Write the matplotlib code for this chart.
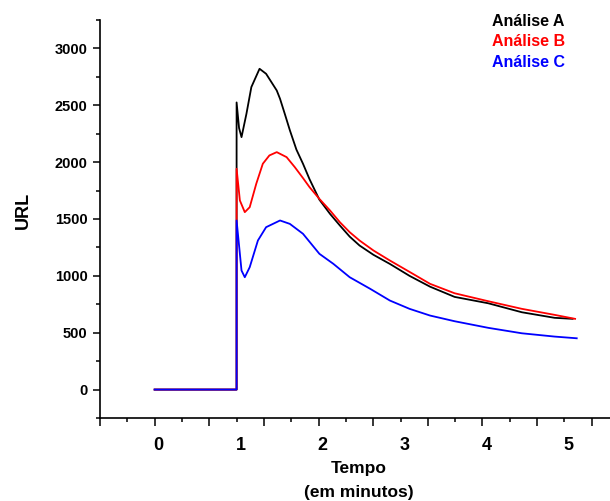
import matplotlib
matplotlib.use("Agg")
import matplotlib.pyplot as plt
from matplotlib.ticker import MultipleLocator

plt.rcParams['font.family'] = ['Liberation Sans', 'DejaVu Sans']
plt.rcParams['font.weight'] = 'bold'

# data (time in minutes, URL values)
t_a = [0, 1.0, 1.0, 1.03, 1.06, 1.12, 1.18, 1.28, 1.36, 1.49, 1.53, 1.59, 1.65,
       1.73, 1.81, 1.89, 2.01, 2.14, 2.26, 2.38, 2.50, 2.67, 2.87, 3.11, 3.36,
       3.66, 4.07, 4.48, 4.88, 5.10]
url_a = [0, 0, 2525, 2300, 2220, 2425, 2660, 2821, 2777, 2630, 2557, 2420, 2280,
         2110, 1986, 1850, 1670, 1545, 1443, 1345, 1267, 1185, 1105, 1000, 905,
         815, 759, 680, 631, 622]

t_b = [0, 1.0, 1.0, 1.04, 1.10, 1.16, 1.24, 1.32, 1.40, 1.49, 1.61, 1.71, 1.81,
       1.89, 2.01, 2.14, 2.26, 2.38, 2.50, 2.67, 2.87, 3.11, 3.36, 3.66, 4.07,
       4.48, 4.88, 5.13]
url_b = [0, 0, 1942, 1663, 1560, 1604, 1810, 1986, 2059, 2088, 2044, 1956, 1860,
         1780, 1677, 1575, 1472, 1384, 1311, 1223, 1135, 1035, 930, 847, 777,
         710, 657, 622]

t_c = [0, 1.0, 1.0, 1.06, 1.10, 1.16, 1.26, 1.36, 1.53, 1.65, 1.81, 2.01, 2.18,
       2.38, 2.63, 2.87, 3.11, 3.36, 3.66, 4.07, 4.48, 4.88, 5.15]
url_c = [0, 0, 1487, 1047, 988, 1076, 1311, 1428, 1487, 1457, 1370, 1194, 1106,
         988, 886, 783, 710, 651, 601, 543, 495, 466, 451]

names = ['Análise A', 'Análise B', 'Análise C']
colors = ['black', 'red', 'blue']
x_labels = ['0', '1', '2', '3', '4', '5']

fig = plt.figure(figsize=(6.10, 5.01), dpi=100)
ax = fig.add_axes([100 / 610, 83 / 501, 510 / 610, 398 / 501])

for t, y, c in zip([t_a, t_b, t_c], [url_a, url_b, url_c], colors):
    ax.plot(t, y, color=c, lw=1.3)

ax.set_xlim(-2 / 3, 5.556)
ax.set_ylim(-250, 3250)

# Origin style axes: only left and bottom
ax.spines['top'].set_visible(False)
ax.spines['right'].set_visible(False)
ax.spines['left'].set_linewidth(1.2)
ax.spines['bottom'].set_linewidth(1.2)

ax.yaxis.set_major_locator(MultipleLocator(500))
ax.yaxis.set_minor_locator(MultipleLocator(250))
ax.xaxis.set_major_locator(MultipleLocator(2 / 3))
ax.xaxis.set_minor_locator(MultipleLocator(1 / 3))
ax.tick_params(axis='y', which='major', length=5, width=1.1, labelsize=10.5, pad=4)
ax.tick_params(axis='y', which='minor', length=3, width=1.1)
ax.tick_params(axis='x', which='major', length=6, width=1.1, labelbottom=False)
ax.tick_params(axis='x', which='minor', length=3, width=1.1)
for lab in ax.get_yticklabels():
    lab.set_fontweight('bold')

# minute labels, written by hand like in the original
for i, s in enumerate(x_labels):
    ax.text(i + 0.05, -0.07, s, transform=ax.get_xaxis_transform(),
            ha='center', va='center', fontsize=13, fontweight='bold')

fig.text(359 / 610, 1 - 468 / 501, 'Tempo', ha='center', va='center',
         fontsize=12.5, fontweight='bold')
fig.text(359 / 610, 1 - 492 / 501, '(em minutos)', ha='center', va='center',
         fontsize=12.5, fontweight='bold')
fig.text(23 / 610, 1 - 210 / 501, 'URL', rotation=90, ha='center', va='center',
         fontsize=13, fontweight='bold')

# legend as coloured text
for k, (n, c) in enumerate(zip(names, colors)):
    fig.text(492 / 610, 1 - (21 + 20.7 * k) / 501, n, color=c, ha='left',
             va='center', fontsize=11.5, fontweight='bold')

fig.savefig('out.png', dpi=100)
